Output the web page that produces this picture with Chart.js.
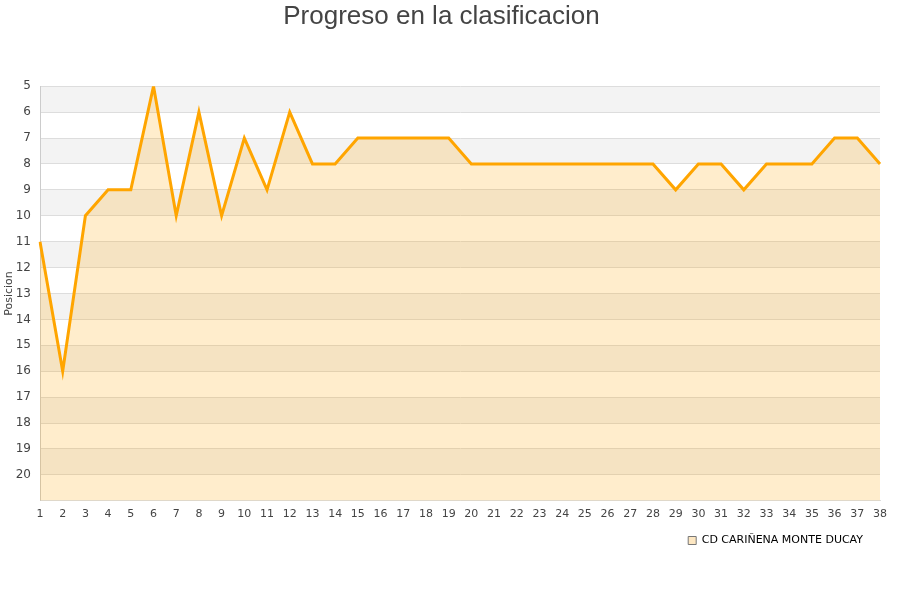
<!DOCTYPE html>
<html>
<head>
<meta charset="utf-8">
<script src="https://cdn.jsdelivr.net/npm/chart.js@4"></script>
<style>
  html, body { margin: 0; padding: 0; background: #fff; }
  #wrap { width: 900px; height: 600px; }
</style>
</head>
<body>
<div id="wrap"><canvas id="chart-pos" width="900" height="600"></canvas></div>
<script>
const jornadas = ['1','2','3','4','5','6','7','8','9','10','11','12','13','14','15','16','17','18','19','20',
  '21','22','23','24','25','26','27','28','29','30','31','32','33','34','35','36','37','38'];
const posiciones = [11, 16, 10, 9, 9, 5, 10, 6, 10, 7, 9, 6, 8, 8, 7, 7, 7, 7, 7, 8,
  8, 8, 8, 8, 8, 8, 8, 8, 9, 8, 8, 9, 8, 8, 8, 7, 7, 8];
const equipo = 'CD CARIÑENA MONTE DUCAY';
const hiddenTicks = [21];

const COLORS = {
  line: '#ffa500',
  fill: 'rgba(255,165,0,0.2)',
  band: '#f3f3f3',
  grid: '#dddddd',
  text: '#444444',
};

// franjas alternas detras del grafico + leyenda un poco a la izquierda
const bandPlugin = {
  id: 'bands',
  afterLayout(chart) {
    chart.legend.left -= 10;
    chart.legend.right -= 10;
  },
  beforeDraw(chart) {
    const { ctx, chartArea } = chart;
    const y = chart.scales.y;
    ctx.save();
    ctx.fillStyle = COLORS.band;
    for (let v = y.min; v < y.max; v += 2) {
      const top = y.getPixelForValue(v);
      const bottom = y.getPixelForValue(v + 1);
      ctx.fillRect(chartArea.left, top, chartArea.right - chartArea.left, bottom - top);
    }
    ctx.restore();
  }
};

new Chart(document.getElementById('chart-pos'), {
  type: 'line',
  data: {
    labels: jornadas,
    datasets: [{
      label: equipo,
      data: posiciones,
      borderColor: COLORS.line,
      backgroundColor: COLORS.fill,
      borderWidth: 3,
      pointRadius: 0,
      tension: 0,
      fill: { value: 21 },
    }]
  },
  options: {
    responsive: false,
    animation: false,
    layout: { padding: { top: 1, right: 20, bottom: 44, left: 3 } },
    plugins: {
      title: {
        display: true,
        text: 'Progreso en la clasificacion',
        color: COLORS.text,
        font: { family: 'Liberation Sans, Arial', size: 26, weight: 'normal' },
        padding: { top: 0, bottom: 54 },
      },
      legend: {
        position: 'bottom',
        align: 'end',
        labels: {
          color: '#000',
          boxWidth: 8,
          boxHeight: 8,
          padding: 7,
          font: { family: 'DejaVu Sans', size: 11 },
          generateLabels(chart) {
            return Chart.defaults.plugins.legend.labels.generateLabels(chart).map(l => ({
              ...l, fillStyle: '#fde7c2', strokeStyle: '#777', lineWidth: 1,
            }));
          },
        },
      },
      tooltip: { enabled: false },
    },
    scales: {
      x: {
        offset: false,
        grid: { display: false, drawTicks: false },
        border: { color: COLORS.grid },
        ticks: { color: COLORS.text, padding: 7, font: { family: 'DejaVu Sans', size: 11 }, maxRotation: 0, autoSkip: false },
      },
      y: {
        reverse: true,
        min: 5,
        max: 21,
        afterFit(scale) { scale.width = 37; },
        grid: { color: COLORS.grid, drawTicks: false },
        border: { color: '#cccccc' },
        title: { display: true, text: 'Posicion', color: COLORS.text, padding: 0, font: { family: 'DejaVu Sans', size: 11 } },
        ticks: {
          stepSize: 1,
          padding: 9,
          color: COLORS.text,
          font: { family: 'DejaVu Sans', size: 12 },
          callback: v => hiddenTicks.includes(v) ? '' : v,
        },
      },
    },
  },
  plugins: [bandPlugin],
});
</script>
</body>
</html>
